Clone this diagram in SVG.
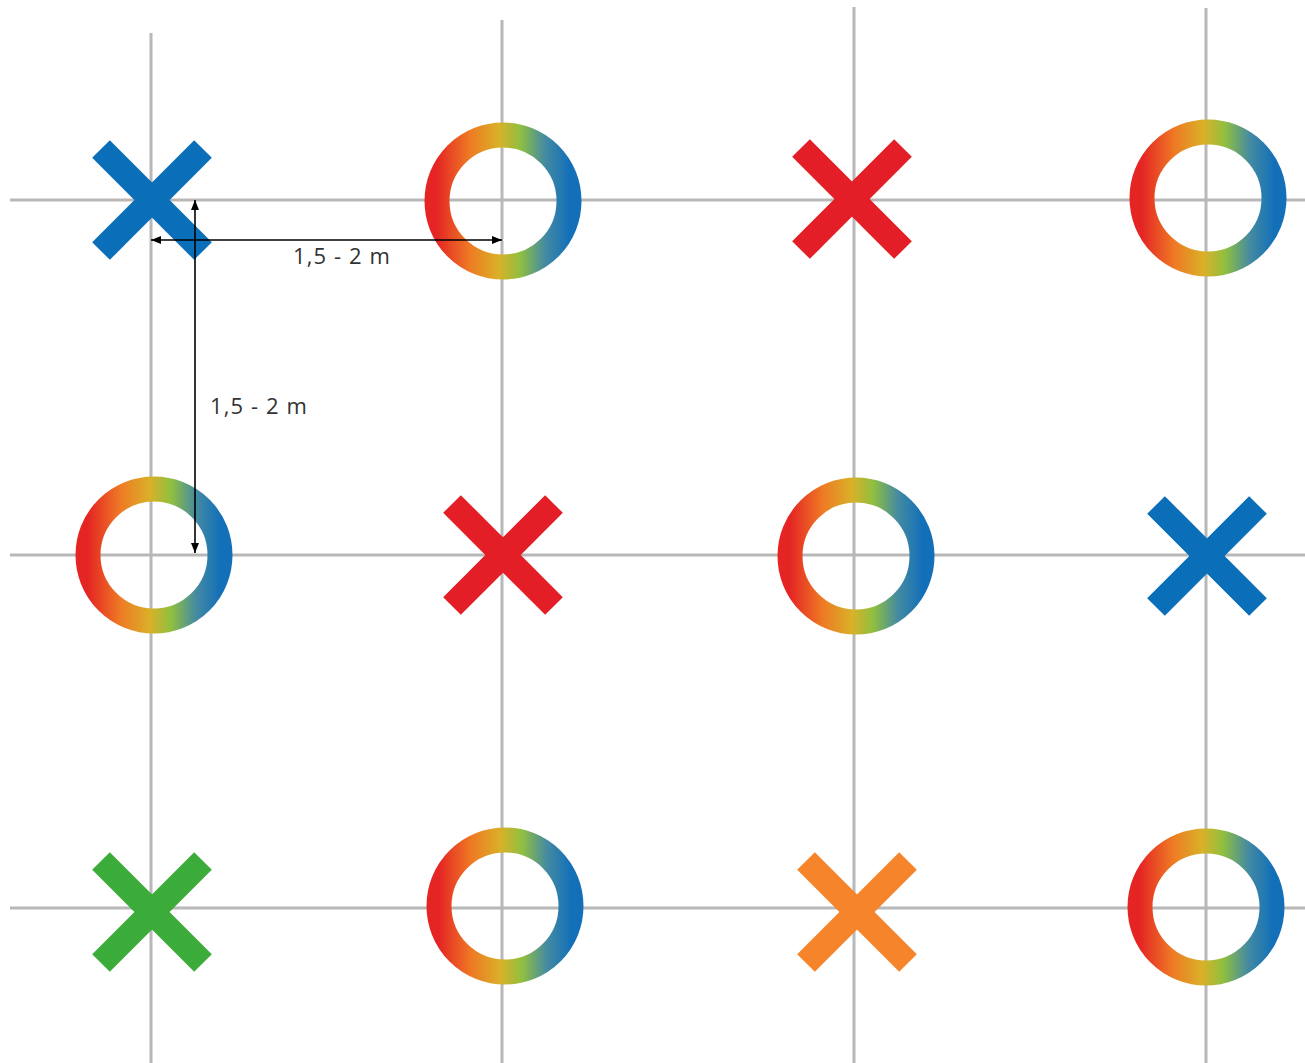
<svg xmlns="http://www.w3.org/2000/svg" width="1305" height="1063" viewBox="0 0 1305 1063">
<defs>
<linearGradient id="rg" x1="0" y1="0" x2="1" y2="0">
<stop offset="0" stop-color="#e42524"/>
<stop offset="0.25" stop-color="#ee7b24"/>
<stop offset="0.47" stop-color="#d9b128"/>
<stop offset="0.63" stop-color="#90bf40"/>
<stop offset="0.82" stop-color="#448aa2"/>
<stop offset="1" stop-color="#1370b8"/>
</linearGradient>
<marker id="ah" viewBox="0 0 10 8" refX="10" refY="4" markerWidth="10" markerHeight="8" markerUnits="userSpaceOnUse" orient="auto-start-reverse">
<path d="M0,0 L10,4 L0,8 Z" fill="#000"/>
</marker>
</defs>
<style>
.grid{stroke:#b8b8b8;stroke-width:3;fill:none}
.ring{fill:none;stroke:url(#rg);stroke-width:25}
.x{stroke-width:25;stroke-linecap:butt;fill:none}
.dim{stroke:#000;stroke-width:1.6;fill:none}
.lbl{font-family:"Open Sans","DejaVu Sans",sans-serif;font-size:22px;letter-spacing:1.1px;fill:#333}
</style>
<rect width="1305" height="1063" fill="#fff"/>
<g id="grid">
<line class="grid" x1="151" y1="33" x2="151" y2="1063"/>
<line class="grid" x1="502" y1="20" x2="502" y2="1063"/>
<line class="grid" x1="854" y1="7" x2="854" y2="1063"/>
<line class="grid" x1="1206" y1="8" x2="1206" y2="1063"/>
<line class="grid" x1="10" y1="200" x2="1305" y2="200"/>
<line class="grid" x1="10" y1="555" x2="1305" y2="555"/>
<line class="grid" x1="10" y1="908" x2="1305" y2="908"/>
</g>
<g id="x-r1c1" class="x" stroke="#0a6eb8"><line x1="101" y1="149" x2="203" y2="251"/><line x1="203" y1="149" x2="101" y2="251"/></g>
<g id="o-r1c2"><circle class="ring" cx="503" cy="201" r="66"/></g>
<g id="x-r1c3" class="x" stroke="#e31e26"><line x1="801" y1="148" x2="903" y2="250"/><line x1="903" y1="148" x2="801" y2="250"/></g>
<g id="o-r1c4"><circle class="ring" cx="1208" cy="198" r="66"/></g>
<g id="o-r2c1"><circle class="ring" cx="154" cy="555" r="66"/></g>
<g id="x-r2c2" class="x" stroke="#e31e26"><line x1="452" y1="504" x2="554" y2="606"/><line x1="554" y1="504" x2="452" y2="606"/></g>
<g id="o-r2c3"><circle class="ring" cx="856" cy="556" r="66"/></g>
<g id="x-r2c4" class="x" stroke="#0a6eb8"><line x1="1156" y1="505" x2="1258" y2="607"/><line x1="1258" y1="505" x2="1156" y2="607"/></g>
<g id="x-r3c1" class="x" stroke="#3bab3a"><line x1="101" y1="861" x2="203" y2="963"/><line x1="203" y1="861" x2="101" y2="963"/></g>
<g id="o-r3c2"><circle class="ring" cx="505" cy="906" r="66"/></g>
<g id="x-r3c3" class="x" stroke="#f5842a"><line x1="806" y1="861" x2="908" y2="963"/><line x1="908" y1="861" x2="806" y2="963"/></g>
<g id="o-r3c4"><circle class="ring" cx="1206" cy="907" r="66"/></g>
<g id="connectors">
<line class="dim" x1="151" y1="240" x2="502" y2="240" marker-start="url(#ah)" marker-end="url(#ah)"/>
<line class="dim" x1="195" y1="200" x2="195" y2="553" marker-start="url(#ah)" marker-end="url(#ah)"/>
</g>
<text class="lbl" x="293" y="264">1,5 - 2 m</text>
<text class="lbl" x="210" y="414">1,5 - 2 m</text>
</svg>
